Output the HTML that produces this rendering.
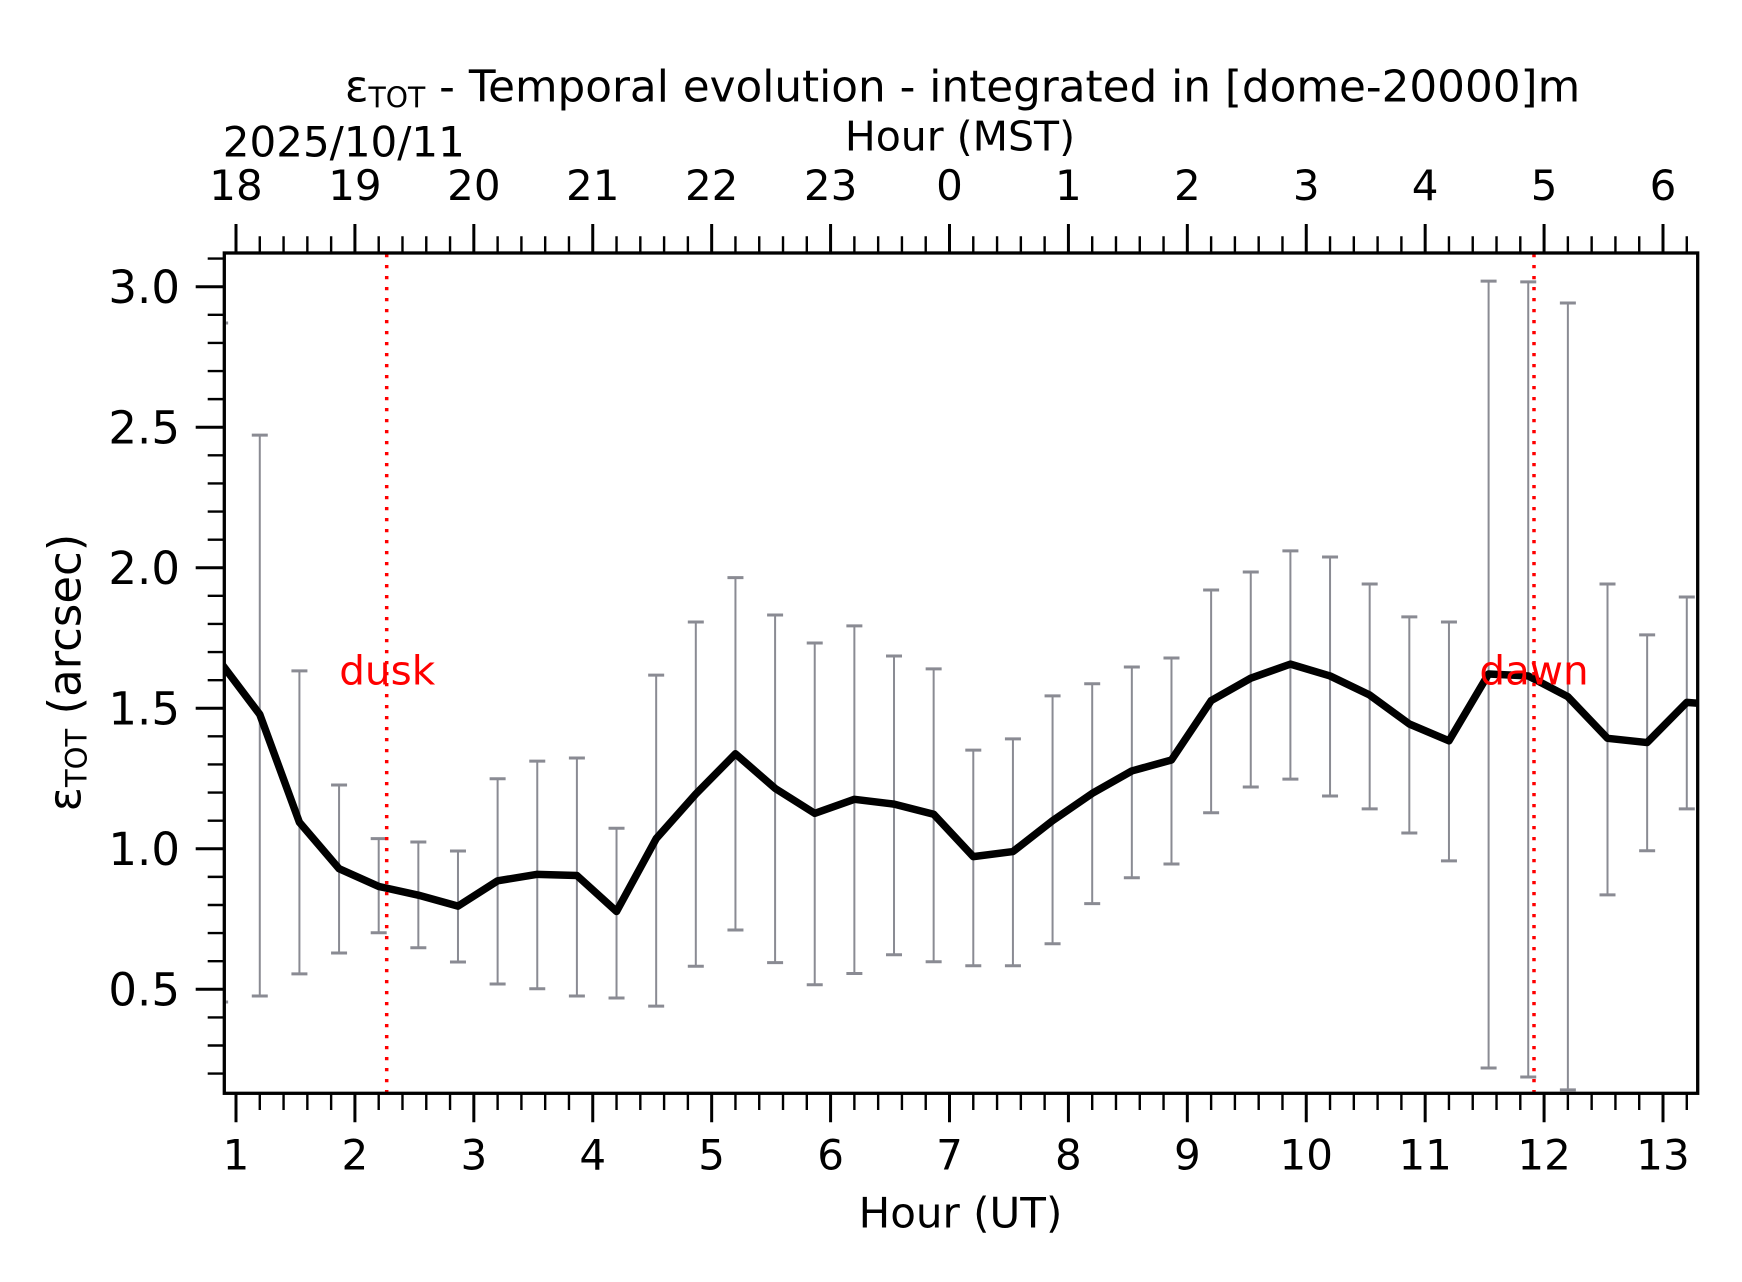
<!DOCTYPE html>
<html><head><meta charset="utf-8"><style>html,body{margin:0;padding:0;background:#fff}svg{display:block}text{font-family:"DejaVu Sans","Liberation Sans",sans-serif}</style></head>
<body>
<svg width="1742" height="1282" viewBox="0 0 1742 1282" xmlns="http://www.w3.org/2000/svg">
<rect width="1742" height="1282" fill="#fff"/>
<defs><clipPath id="c"><rect x="224.3" y="253" width="1473.4" height="840.3"/></clipPath></defs>
<g clip-path="url(#c)">
<path fill="none" stroke="#8a8b93" stroke-width="2" d="M220.14 322.95V1001.95M259.78 435.09V996.04M299.42 670.88V973.84M339.06 784.98V953.05M378.70 838.66V932.81M418.34 842.03V947.71M457.98 851.03V962.04M497.62 778.80V983.96M537.26 761.10V988.74M576.90 758.00V996.04M616.53 828.26V998.01M656.17 675.10V1006.16M695.81 621.98V966.25M735.45 577.58V930.00M775.09 614.95V962.60M814.73 643.06V984.80M854.37 625.92V973.56M894.01 655.99V954.73M933.65 668.91V961.76M973.29 750.13V965.69M1012.93 738.89V965.69M1052.57 695.89V943.77M1092.20 683.81V903.58M1131.84 666.95V877.73M1171.48 657.95V863.96M1211.12 589.94V812.81M1250.76 571.96V786.95M1290.40 550.88V779.08M1330.04 557.06V795.94M1369.68 584.04V808.87M1409.32 616.92V833.04M1448.96 621.98V860.86M1488.60 281.08V1067.99M1528.24 281.92V1076.98M1567.87 303.00V1089.91M1607.51 584.04V894.87M1647.15 634.91V850.75M1686.79 596.97V808.87"/>
<path fill="none" stroke="#8a8b93" stroke-width="3" d="M212.14 322.95h16M212.14 1001.95h16M251.78 435.09h16M251.78 996.04h16M291.42 670.88h16M291.42 973.84h16M331.06 784.98h16M331.06 953.05h16M370.70 838.66h16M370.70 932.81h16M410.34 842.03h16M410.34 947.71h16M449.98 851.03h16M449.98 962.04h16M489.62 778.80h16M489.62 983.96h16M529.26 761.10h16M529.26 988.74h16M568.90 758.00h16M568.90 996.04h16M608.53 828.26h16M608.53 998.01h16M648.17 675.10h16M648.17 1006.16h16M687.81 621.98h16M687.81 966.25h16M727.45 577.58h16M727.45 930.00h16M767.09 614.95h16M767.09 962.60h16M806.73 643.06h16M806.73 984.80h16M846.37 625.92h16M846.37 973.56h16M886.01 655.99h16M886.01 954.73h16M925.65 668.91h16M925.65 961.76h16M965.29 750.13h16M965.29 965.69h16M1004.93 738.89h16M1004.93 965.69h16M1044.57 695.89h16M1044.57 943.77h16M1084.20 683.81h16M1084.20 903.58h16M1123.84 666.95h16M1123.84 877.73h16M1163.48 657.95h16M1163.48 863.96h16M1203.12 589.94h16M1203.12 812.81h16M1242.76 571.96h16M1242.76 786.95h16M1282.40 550.88h16M1282.40 779.08h16M1322.04 557.06h16M1322.04 795.94h16M1361.68 584.04h16M1361.68 808.87h16M1401.32 616.92h16M1401.32 833.04h16M1440.96 621.98h16M1440.96 860.86h16M1480.60 281.08h16M1480.60 1067.99h16M1520.24 281.92h16M1520.24 1076.98h16M1559.87 303.00h16M1559.87 1089.91h16M1599.51 584.04h16M1599.51 894.87h16M1639.15 634.91h16M1639.15 850.75h16M1678.79 596.97h16M1678.79 808.87h16"/>
<polyline fill="none" stroke="#000" stroke-width="7.5" stroke-linejoin="round" points="220.14,661.89 259.78,714.44 299.42,822.36 339.06,868.73 378.70,886.44 418.34,895.15 457.98,906.11 497.62,880.82 537.26,874.35 576.90,875.48 616.53,911.45 656.17,838.66 695.81,793.98 735.45,753.79 775.09,788.36 814.73,813.37 854.37,799.32 894.01,804.09 933.65,814.21 973.29,856.65 1012.93,851.59 1052.57,820.68 1092.20,793.41 1131.84,770.93 1171.48,759.97 1211.12,700.67 1250.76,678.19 1290.40,664.14 1330.04,675.94 1369.68,695.05 1409.32,724.00 1448.96,740.86 1488.60,673.97 1528.24,675.94 1567.87,696.74 1607.51,738.33 1647.15,742.55 1686.79,702.36 1726.43,705.45"/>
<path fill="none" stroke="#ff0000" stroke-width="3.5" stroke-dasharray="3.3 7.7" d="M386.7 1093.3V253M1534 1093.3V253"/>
</g>
<text x="387.2" y="684.5" font-size="40.5" fill="#ff0000" text-anchor="middle">dusk</text>
<text x="1534" y="684.5" font-size="40.5" fill="#ff0000" text-anchor="middle">dawn</text>
<rect x="224.3" y="253" width="1473.4" height="840.3" fill="none" stroke="#000" stroke-width="3.3"/>
<path fill="none" stroke="#000" stroke-width="3" d="M236.00 1093.3V1122.3M354.92 1093.3V1122.3M473.83 1093.3V1122.3M592.75 1093.3V1122.3M711.67 1093.3V1122.3M830.58 1093.3V1122.3M949.50 1093.3V1122.3M1068.42 1093.3V1122.3M1187.33 1093.3V1122.3M1306.25 1093.3V1122.3M1425.17 1093.3V1122.3M1544.08 1093.3V1122.3M1663.00 1093.3V1122.3M236.00 253V224M354.92 253V224M473.83 253V224M592.75 253V224M711.67 253V224M830.58 253V224M949.50 253V224M1068.42 253V224M1187.33 253V224M1306.25 253V224M1425.17 253V224M1544.08 253V224M1663.00 253V224M224.3 989.30H195.7M224.3 848.78H195.7M224.3 708.26H195.7M224.3 567.74H195.7M224.3 427.22H195.7M224.3 286.70H195.7"/>
<path fill="none" stroke="#000" stroke-width="2.4" d="M259.78 1093.3V1110M283.57 1093.3V1110M307.35 1093.3V1110M331.13 1093.3V1110M378.70 1093.3V1110M402.48 1093.3V1110M426.27 1093.3V1110M450.05 1093.3V1110M497.62 1093.3V1110M521.40 1093.3V1110M545.18 1093.3V1110M568.97 1093.3V1110M616.53 1093.3V1110M640.32 1093.3V1110M664.10 1093.3V1110M687.88 1093.3V1110M735.45 1093.3V1110M759.23 1093.3V1110M783.02 1093.3V1110M806.80 1093.3V1110M854.37 1093.3V1110M878.15 1093.3V1110M901.93 1093.3V1110M925.72 1093.3V1110M973.28 1093.3V1110M997.07 1093.3V1110M1020.85 1093.3V1110M1044.63 1093.3V1110M1092.20 1093.3V1110M1115.98 1093.3V1110M1139.77 1093.3V1110M1163.55 1093.3V1110M1211.12 1093.3V1110M1234.90 1093.3V1110M1258.68 1093.3V1110M1282.47 1093.3V1110M1330.03 1093.3V1110M1353.82 1093.3V1110M1377.60 1093.3V1110M1401.38 1093.3V1110M1448.95 1093.3V1110M1472.73 1093.3V1110M1496.52 1093.3V1110M1520.30 1093.3V1110M1567.87 1093.3V1110M1591.65 1093.3V1110M1615.43 1093.3V1110M1639.22 1093.3V1110M1686.78 1093.3V1110
M259.78 253V236.3M283.57 253V236.3M307.35 253V236.3M331.13 253V236.3M378.70 253V236.3M402.48 253V236.3M426.27 253V236.3M450.05 253V236.3M497.62 253V236.3M521.40 253V236.3M545.18 253V236.3M568.97 253V236.3M616.53 253V236.3M640.32 253V236.3M664.10 253V236.3M687.88 253V236.3M735.45 253V236.3M759.23 253V236.3M783.02 253V236.3M806.80 253V236.3M854.37 253V236.3M878.15 253V236.3M901.93 253V236.3M925.72 253V236.3M973.28 253V236.3M997.07 253V236.3M1020.85 253V236.3M1044.63 253V236.3M1092.20 253V236.3M1115.98 253V236.3M1139.77 253V236.3M1163.55 253V236.3M1211.12 253V236.3M1234.90 253V236.3M1258.68 253V236.3M1282.47 253V236.3M1330.03 253V236.3M1353.82 253V236.3M1377.60 253V236.3M1401.38 253V236.3M1448.95 253V236.3M1472.73 253V236.3M1496.52 253V236.3M1520.30 253V236.3M1567.87 253V236.3M1591.65 253V236.3M1615.43 253V236.3M1639.22 253V236.3M1686.78 253V236.3
M224.3 1073.61H207.7M224.3 1045.51H207.7M224.3 1017.40H207.7M224.3 961.20H207.7M224.3 933.09H207.7M224.3 904.99H207.7M224.3 876.88H207.7M224.3 820.67H207.7M224.3 792.57H207.7M224.3 764.47H207.7M224.3 736.36H207.7M224.3 680.16H207.7M224.3 652.05H207.7M224.3 623.95H207.7M224.3 595.84H207.7M224.3 539.64H207.7M224.3 511.53H207.7M224.3 483.43H207.7M224.3 455.32H207.7M224.3 399.12H207.7M224.3 371.02H207.7M224.3 342.91H207.7M224.3 314.81H207.7M224.3 258.60H207.7"/>
<g font-size="42" text-anchor="middle" fill="#000">
<text x="236.00" y="1169.3">1</text><text x="354.92" y="1169.3">2</text><text x="473.83" y="1169.3">3</text><text x="592.75" y="1169.3">4</text><text x="711.67" y="1169.3">5</text><text x="830.58" y="1169.3">6</text><text x="949.50" y="1169.3">7</text><text x="1068.42" y="1169.3">8</text><text x="1187.33" y="1169.3">9</text><text x="1306.25" y="1169.3">10</text><text x="1425.17" y="1169.3">11</text><text x="1544.08" y="1169.3">12</text><text x="1663.00" y="1169.3">13</text>
<text x="236.00" y="200">18</text><text x="354.92" y="200">19</text><text x="473.83" y="200">20</text><text x="592.75" y="200">21</text><text x="711.67" y="200">22</text><text x="830.58" y="200">23</text><text x="949.50" y="200">0</text><text x="1068.42" y="200">1</text><text x="1187.33" y="200">2</text><text x="1306.25" y="200">3</text><text x="1425.17" y="200">4</text><text x="1544.08" y="200">5</text><text x="1663.00" y="200">6</text>
<text x="960.5" y="1227.7">Hour (UT)</text>
</g>
<text x="960" y="150.7" font-size="41" text-anchor="middle">Hour (MST)</text>
<text x="222.8" y="156.3" font-size="42">2025/10/11</text>
<g font-size="45" text-anchor="end" fill="#000">
<text x="180" y="1005.7">0.5</text><text x="180" y="865.2">1.0</text><text x="180" y="724.7">1.5</text><text x="180" y="584.1">2.0</text><text x="180" y="443.6">2.5</text><text x="180" y="303.1">3.0</text>
</g>
<text transform="translate(80.7,672.5) rotate(-90)" font-size="45" text-anchor="middle">ε<tspan font-size="29" dy="5.8">TOT</tspan><tspan dy="-5.8"> (arcsec)</tspan></text>
<text x="962.5" y="101.7" font-size="43.7" text-anchor="middle">ε<tspan font-size="28.3" dy="5.6">TOT</tspan><tspan dy="-5.6"> - Temporal evolution - integrated in [dome-20000]m</tspan></text>
</svg>
</body></html>
